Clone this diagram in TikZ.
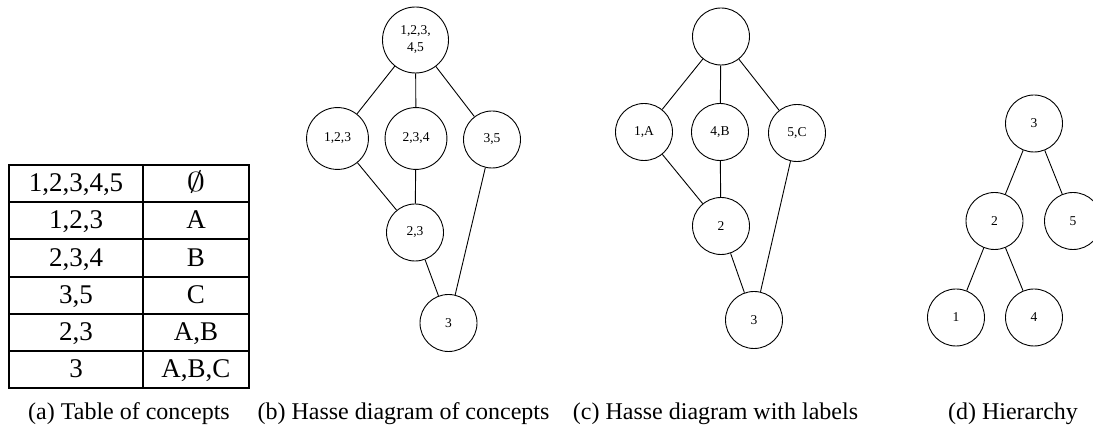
\documentclass[tikz,border=0pt]{standalone}
\usepackage{fontspec}
\setmainfont{Liberation Serif}
\begin{document}
\begin{tikzpicture}[x=1pt, y=-1pt, line width=0.9pt,
    concept/.style={draw, circle, minimum size=57pt, inner sep=12pt, align=center,
      font=\fontsize{13.5}{17}\selectfont},
    cell/.style={anchor=base, font=\fontsize{27}{30}\selectfont},
    caption/.style={anchor=base, font=\fontsize{24}{28}\selectfont}]

  \useasboundingbox (0,0) rectangle (1093,427);

  % Table of concepts
  \draw[line width=1.2pt] (9,165) rectangle (249,388);
  \draw[line width=1.2pt] (143,165) -- (143,388);
  \foreach \y in {202,239,277,314,351}
    \draw[line width=1.2pt] (9,\y) -- (249,\y);

  \node[cell] (e1) at (76,191.7) {1,2,3,4,5};
  \node[cell] (i1) at (196,191.7) {\scalebox{1.5}[1.1]{$\emptyset$}};
  \node[cell] (e2) at (76,228.9) {1,2,3};
  \node[cell] (i2) at (196,228.9) {A};
  \node[cell] (e3) at (76,266.1) {2,3,4};
  \node[cell] (i3) at (196,266.1) {B};
  \node[cell] (e4) at (76,303.3) {3,5};
  \node[cell] (i4) at (196,303.3) {C};
  \node[cell] (e5) at (76,340.5) {2,3};
  \node[cell] (i5) at (196,340.5) {A,B};
  \node[cell] (e6) at (76,377.7) {3};
  \node[cell] (i6) at (196,377.7) {A,B,C};

  % Hasse diagram of concepts
  \node[concept, inner sep=8pt, minimum size=66pt] (b0) at (415.5,40) {1,2,3,\\4,5};
  \node[concept] (b1) at (337.5,138.5) {1,2,3};
  \node[concept] (b2) at (416,138.5) {2,3,4};
  \node[concept] (b3) at (492,139.5) {3,5};
  \node[concept] (b4) at (415,232.5) {2,3};
  \node[concept] (b5) at (448.5,323) {3};

  \draw (b0) -- (b1);
  \draw (b0) -- (b2);
  \draw (b0) -- (b3);
  \draw (b1) -- (b4);
  \draw (b2) -- (b4);
  \draw (b4) -- (b5);
  \draw (b3) -- (b5);

  % Hasse diagram with labels
  \node[concept] (c0) at (721,36.5) {};
  \node[concept] (c1) at (644,132) {1,A};
  \node[concept] (c2) at (720,132) {4,B};
  \node[concept] (c3) at (797,133) {5,C};
  \node[concept] (c4) at (721,226) {2};
  \node[concept] (c5) at (754,320) {3};

  \draw (c0) -- (c1);
  \draw (c0) -- (c2);
  \draw (c0) -- (c3);
  \draw (c1) -- (c4);
  \draw (c2) -- (c4);
  \draw (c4) -- (c5);
  \draw (c3) -- (c5);

  % Hierarchy
  \begin{scope}[every node/.append style={minimum size=60pt}]
    \node[concept] (d0) at (1034,123.5) {3};
    \node[concept] (d1) at (994.5,221) {2};
    \node[concept] (d2) at (1073,221) {5};
    \node[concept] (d3) at (956,317.5) {1};
    \node[concept] (d4) at (1034,317.5) {4};
  \end{scope}

  \draw (d0) -- (d1);
  \draw (d0) -- (d2);
  \draw (d1) -- (d3);
  \draw (d1) -- (d4);

  % Captions
  \node[caption] (capa) at (129,420) {(a) Table of concepts};
  \node[caption] (capb) at (403.5,420) {(b) Hasse diagram of concepts};
  \node[caption] (capc) at (715.5,420) {(c) Hasse diagram with labels};
  \node[caption] (capd) at (1013,420) {(d) Hierarchy};

\end{tikzpicture}
\end{document}
